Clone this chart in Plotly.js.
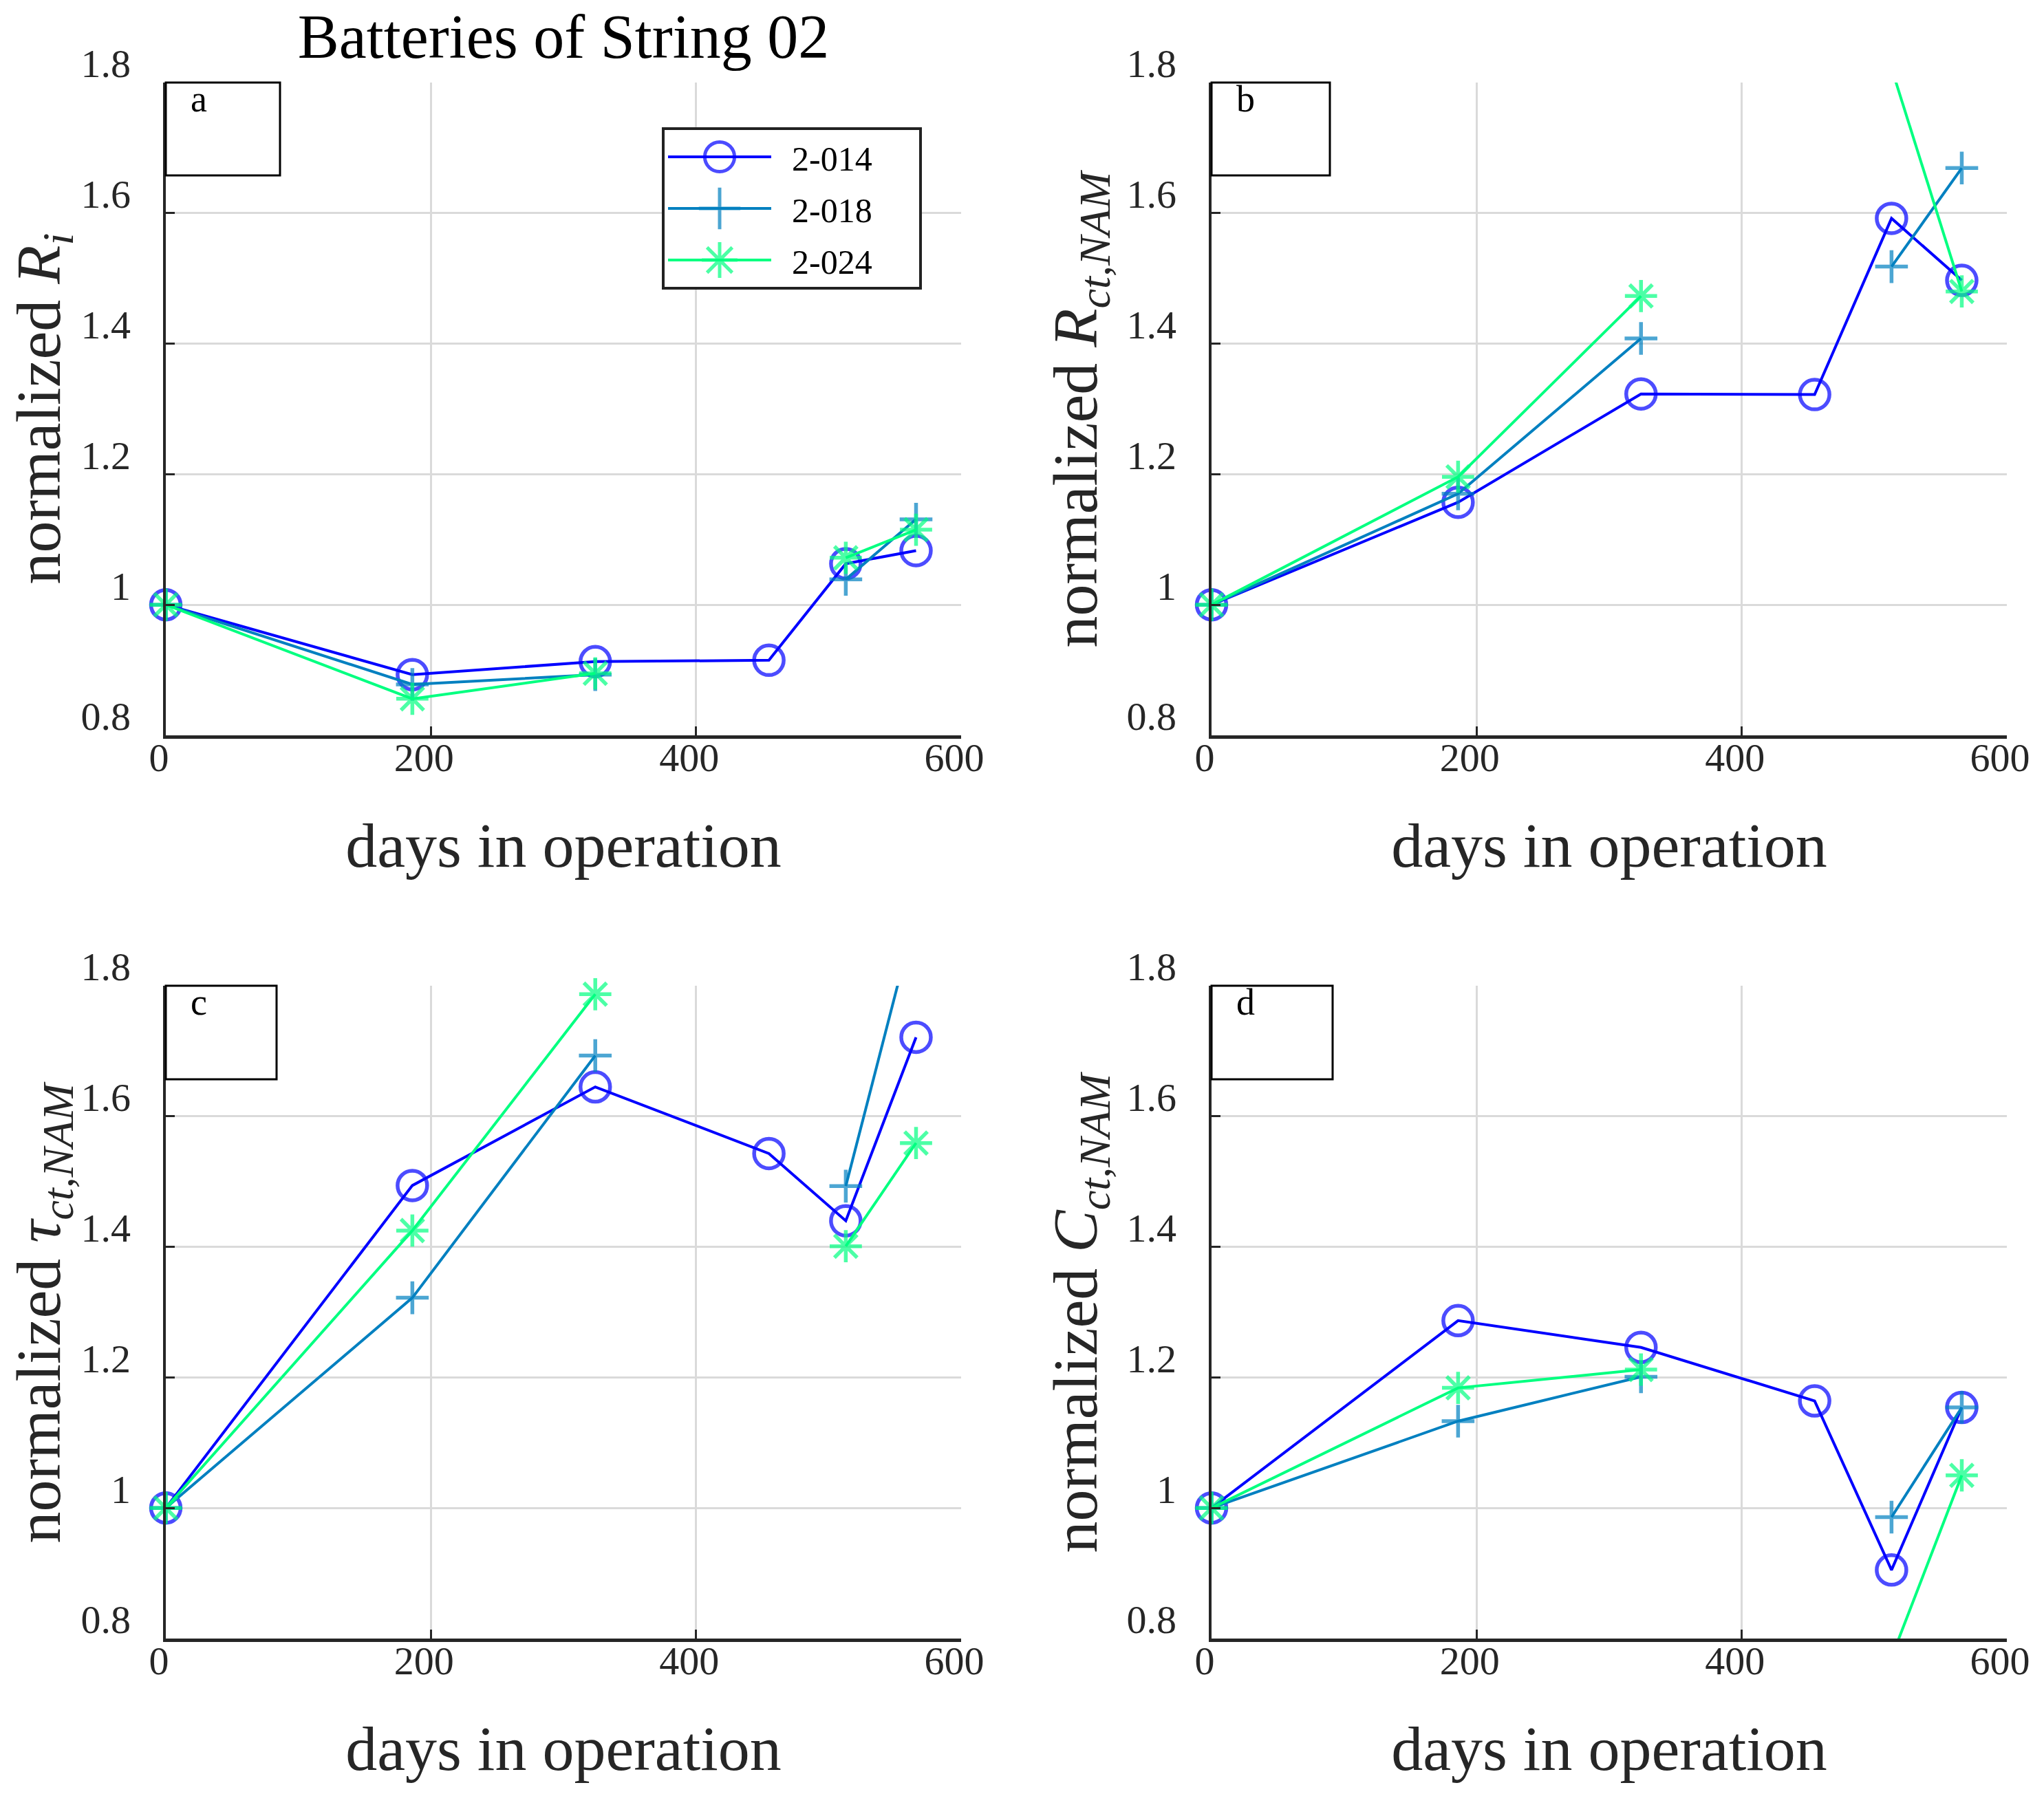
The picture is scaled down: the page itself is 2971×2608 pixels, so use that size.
<!DOCTYPE html>
<html>
<head>
<meta charset="utf-8">
<script src="https://cdn.plot.ly/plotly-3.0.1.min.js"></script>
<style>
  html, body { margin: 0; padding: 0; background: #fff; }
  #chart { width: 2971px; height: 2608px; }
</style>
</head>
<body>
<div id="chart"></div>
<script>
// days in operation at each measurement
const days = [0, 186, 324, 455, 513, 566];
const batteries = ["2-014", "2-018", "2-024"];

// (a) normalized R_i
const ri014 = [1.0, 0.893, 0.913, 0.915, 1.063, 1.083];
const ri018 = [1.0, 0.878, 0.893, null, 1.039, 1.131];
const ri024 = [1.0, 0.856, 0.895, null, 1.072, 1.115];

// (b) normalized R_ct,NAM
const rct014 = [1.0, 1.157, 1.323, 1.322, 1.592, 1.497];
const rct018 = [1.0, 1.170, 1.408, null, 1.518, 1.669];
const rct024 = [1.0, 1.196, 1.473, null, 1.822, 1.480];

// (c) normalized tau_ct,NAM
const tau014 = [1.0, 1.494, 1.645, 1.543, 1.440, 1.721];
const tau018 = [1.0, 1.322, 1.693, null, 1.493, 1.91];
const tau024 = [1.0, 1.425, 1.787, null, 1.401, 1.559];

// (d) normalized C_ct,NAM
const cct014 = [1.0, 1.287, 1.246, 1.164, 0.905, 1.154];
const cct018 = [1.0, 1.133, 1.201, null, 0.986, 1.154];
const cct024 = [1.0, 1.184, 1.212, null, 0.771, 1.050];

const panelLetters = ["a", "b", "c", "d"];
const yTitles = [
  "normalized <i>R</i><sub><i>i</i></sub>",
  "normalized <i>R</i><sub><i>ct,NAM</i></sub>",
  "normalized <i>τ</i><sub><i>ct,NAM</i></sub>",
  "normalized <i>C</i><sub><i>ct,NAM</i></sub>",
];
const panelSeries = [
  [ri014, ri018, ri024],
  [rct014, rct018, rct024],
  [tau014, tau018, tau024],
  [cct014, cct018, cct024],
];

const Y_RANGE = [0.8, 1.8];
const FONT = "Liberation Serif, Times New Roman, serif";
const INK = "#262626";
const COLORS = ["#0000ff", "#0080c0", "#00ff80"];
const SYMBOLS = ["circle-open", "cross-thin-open", "asterisk-open"];
const SIZES = [43, 34, 39];
const NBSP = "\u00a0";

// pixel geometry of the four axes boxes (page is 2971 x 2608)
const W = 2971, H = 2608;
const COLS = [[241, 1397], [1761, 2917]];
const ROWS = [[120, 1069], [1433, 2382]];
// centre of the rotated y-axis title, per column (px)
const Y_TITLE_X = [62, 1569];

const traces = [];
panelSeries.forEach((series, p) => {
  const sfx = p === 0 ? "" : String(p + 1);
  series.forEach((vals, b) => {
    traces.push({
      x: days,
      y: vals,
      xaxis: "x" + sfx,
      yaxis: "y" + sfx,
      type: "scatter",
      mode: "lines+markers",
      // padding spaces place the label and widen the legend box like the original
      name: NBSP.repeat(2) + batteries[b] + NBSP.repeat(5),
      legendgroup: batteries[b],
      showlegend: p === 0,
      connectgaps: false,
      cliponaxis: false,
      line: { color: COLORS[b], width: 4 },
      marker: {
        symbol: SYMBOLS[b],
        // points beyond the axes limits are hidden (MATLAB clips them)
        size: vals.map((v) => (v == null || v < Y_RANGE[0] || v > Y_RANGE[1] ? 0 : SIZES[b])),
        color: COLORS[b],
        line: { color: COLORS[b], width: 5.5 },
      },
      hoverinfo: "skip",
    });
  });
});

function xAxis(col, anchor) {
  return {
    domain: [COLS[col][0] / W, COLS[col][1] / W],
    anchor,
    range: [0, 600],
    dtick: 200,
    showline: true,
    linecolor: INK,
    linewidth: 4.5,
    ticks: "inside",
    ticklen: 13,
    tickwidth: 3,
    tickcolor: INK,
    ticklabelstandoff: -22,
    ticklabelshift: -10,
    showgrid: true,
    gridcolor: "#dadada",
    gridwidth: 3,
    zeroline: false,
    tickfont: { family: FONT, size: 58, color: INK },
    title: { text: "days in operation", font: { family: FONT, size: 92, color: INK }, standoff: 64 },
  };
}

function yAxis(row, anchor) {
  return {
    domain: [1 - ROWS[row][1] / H, 1 - ROWS[row][0] / H],
    anchor,
    range: Y_RANGE,
    tickvals: [0.8, 1, 1.2, 1.4, 1.6, 1.8],
    showline: true,
    linecolor: INK,
    linewidth: 4.5,
    ticks: "inside",
    ticklen: 13,
    tickwidth: 3,
    tickcolor: INK,
    ticklabelstandoff: 35,
    ticklabelshift: -28,
    showgrid: true,
    gridcolor: "#dadada",
    gridwidth: 3,
    zeroline: false,
    tickfont: { family: FONT, size: 58, color: INK },
  };
}

// letter boxes in the top-left corner of every panel
const BOXES = [
  [241, 407, 120, 255],
  [1761, 1933, 120, 255],
  [241, 402, 1433, 1569],
  [1761, 1937, 1433, 1569],
];
const shapes = BOXES.map(([x0, x1, y0, y1]) => ({
  type: "rect",
  xref: "paper",
  yref: "paper",
  x0: x0 / W,
  x1: x1 / W,
  y0: 1 - y0 / H,
  y1: 1 - y1 / H,
  line: { color: "#000", width: 3 },
  layer: "above",
}));
const annotations = BOXES.map(([x0, , y0], i) => ({
  xref: "paper",
  yref: "paper",
  x: (x0 + 34) / W,
  y: 1 - (y0 - 8) / H,
  xanchor: "left",
  yanchor: "top",
  text: panelLetters[i],
  showarrow: false,
  font: { family: FONT, size: 54, color: "#000" },
}));
// rotated y-axis titles, centred on each panel
yTitles.forEach((text, i) => {
  const row = ROWS[Math.floor(i / 2)];
  annotations.push({
    xref: "paper",
    yref: "paper",
    x: Y_TITLE_X[i % 2] / W,
    y: 1 - (row[0] + row[1]) / 2 / H,
    xanchor: "center",
    yanchor: "middle",
    textangle: -90,
    text,
    showarrow: false,
    font: { family: FONT, size: 92, color: INK },
  });
});

const layout = {
  width: W,
  height: H,
  margin: { l: 0, r: 0, t: 0, b: 0 },
  paper_bgcolor: "#fff",
  plot_bgcolor: "#fff",
  font: { family: FONT, color: INK },
  title: {
    text: "Batteries of String 02",
    font: { family: FONT, size: 90, color: "#000" },
    x: 819 / W,
    xanchor: "center",
    xref: "paper",
    y: 1 - 52 / H,
    yanchor: "middle",
  },
  xaxis: xAxis(0, "y"),
  yaxis: yAxis(0, "x"),
  xaxis2: xAxis(1, "y2"),
  yaxis2: yAxis(0, "x2"),
  xaxis3: xAxis(0, "y3"),
  yaxis3: yAxis(1, "x3"),
  xaxis4: xAxis(1, "y4"),
  yaxis4: yAxis(1, "x4"),
  showlegend: true,
  legend: {
    x: 962 / W,
    y: 1 - 185 / H,
    xanchor: "left",
    yanchor: "top",
    bgcolor: "#fff",
    bordercolor: "#222",
    borderwidth: 4,
    itemwidth: 150,
    tracegroupgap: 7,
    font: { family: FONT, size: 50, color: "#000" },
  },
  shapes,
  annotations,
};

Plotly.newPlot("chart", traces, layout, { staticPlot: true, displayModeBar: false }).then((gd) => {
  // legend glyphs are capped at 16px by Plotly; scale them to the plot's marker size
  gd.querySelectorAll(".legend .legendpoints path.scatterpts").forEach((p) => {
    const t = p.getAttribute("transform") || "";
    p.setAttribute("transform", t + " scale(2.7)");
    p.style.vectorEffect = "non-scaling-stroke";
  });
});
</script>
</body>
</html>
